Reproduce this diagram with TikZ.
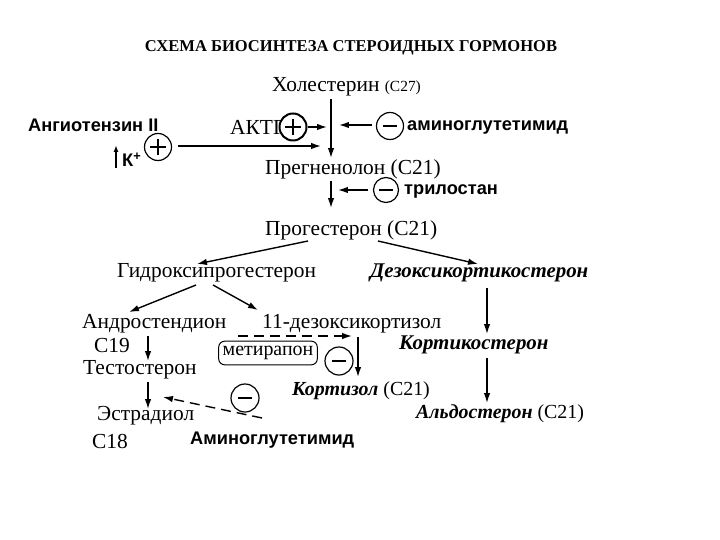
\documentclass[tikz,border=0pt]{standalone}
\usepackage{fontspec}
\setmainfont{Liberation Serif}
\setsansfont{Liberation Sans}
\usetikzlibrary{arrows.meta}
\begin{document}
\begin{tikzpicture}[x=1bp,y=-1bp,
 lbl/.style={inner sep=0pt, anchor=west, font=\fontsize{21.5}{24}\selectfont},
 mix/.style={inner sep=0pt, anchor=west, font=\fontsize{20}{22}\selectfont},
 bi/.style={inner sep=0pt, anchor=west, font=\fontsize{21}{23}\selectfont\bfseries\itshape},
 sl/.style={inner sep=0pt, anchor=west, font=\fontsize{18.3}{20}\selectfont\sffamily\bfseries},
 arr/.style={-{Latex[length=10pt,width=6.5pt]}, line width=1.4pt},
 darr/.style={arr, dash pattern=on 10pt off 6pt},
 sign/.style={circle, draw, line width=1.2pt, minimum size=27bp, inner sep=0pt},
 plussign/.style={sign, path picture={
   \draw[line width=1.8pt] ([xshift=-8bp]path picture bounding box.center) -- ([xshift=8bp]path picture bounding box.center);
   \draw[line width=1.8pt] ([yshift=-8bp]path picture bounding box.center) -- ([yshift=8bp]path picture bounding box.center);}},
 minussign/.style={sign, path picture={
   \draw[line width=2.2pt] ([xshift=-7bp]path picture bounding box.center) -- ([xshift=7bp]path picture bounding box.center);}},
]
\useasboundingbox[fill=white] (0,0) rectangle (720,540);

% title
\node[inner sep=0pt, font=\fontsize{16.6}{18}\selectfont\bfseries] (title) at (351,48) {СХЕМА БИОСИНТЕЗА СТЕРОИДНЫХ ГОРМОНОВ};

% main column
\node[lbl] (chol) at (272,87) {Холестерин {\fontsize{15.5}{17}\selectfont(С27)}};
\node[lbl] (preg) at (265,169) {Прегненолон (С21)};
\node[lbl] (prog) at (265,230) {Прогестерон (С21)};
\coordinate (v1) at (331,99);
\coordinate (v2) at (331,158);
\coordinate (v3) at (331,181);
\coordinate (v4) at (331,208);
\draw[arr] (v1) -- (v2);
\draw[arr] (v3) -- (v4);

% activators
\node[sl] (ang) at (28,125) {Ангиотензин II};
\node[lbl] (actg) at (230,127) {АКТГ};
\node[plussign, line width=2pt, fill=white] (p1) at (293,127) {};
\coordinate (p1e) at (327,127);
\draw[arr] (p1) -- (p1e);
\node[plussign] (p2) at (158,147) {};
\coordinate (p2s) at (178,146);
\coordinate (p2e) at (321,146);
\draw[arr] (p2s) -- (p2e);
\node[sl] (kp) at (122,160) {К\textsuperscript{+}};
\coordinate (ku1) at (116,168);
\coordinate (ku2) at (116,145);
\draw[-{Latex[length=7pt,width=5pt]}, line width=1.4pt] (ku1) -- (ku2);

% inhibitors top
\node[minussign] (m1) at (390,126) {};
\node[sl] (amg1) at (407,127) {аминоглутетимид};
\coordinate (m1s) at (372,125);
\coordinate (m1e) at (339,125);
\draw[arr] (m1s) -- (m1e);
\node[minussign, minimum size=25bp] (m2) at (386,190) {};
\node[sl] (tril) at (404,191) {трилостан};
\coordinate (m2s) at (368,190);
\coordinate (m2e) at (338,190);
\draw[arr] (m2s) -- (m2e);

% second level
\node[lbl] (hydr) at (117,273) {Гидроксипрогестерон};
\node[bi] (dezk) at (370,273) {Дезоксикортикостерон};
\coordinate (pl) at (308,241);
\coordinate (pr) at (378,241);
\coordinate (hl) at (197,264);
\coordinate (dr) at (478,264);
\draw[arr] (pl) -- (hl);
\draw[arr] (pr) -- (dr);

% third level
\node[lbl] (andr) at (82,324) {Андростендион};
\node[lbl] (dezc) at (262,324) {11-дезоксикортизол};
\coordinate (hs1) at (196,285);
\coordinate (he1) at (129,312);
\coordinate (hs2) at (213,285);
\coordinate (he2) at (258,310);
\draw[arr] (hs1) -- (he1);
\draw[arr] (hs2) -- (he2);
\node[lbl] (c19) at (94,346) {С19};
\node[lbl] (test) at (83,370) {Тестостерон};
\node[lbl] (estr) at (97,416) {Эстрадиол};
\node[lbl] (c18) at (92,441) {С18};
\coordinate (a1) at (148,336);
\coordinate (a2) at (148,361);
\coordinate (a3) at (148,382);
\coordinate (a4) at (148,409);
\draw[arr] (a1) -- (a2);
\draw[arr] (a3) -- (a4);

% metyrapone
\node[draw, rounded corners=6pt, line width=1pt, inner xsep=4pt, inner ysep=5pt, font=\fontsize{20}{22}\selectfont] (met) at (268,353) {метирапон};
\coordinate (d1) at (238,336);
\coordinate (d2) at (352,336);
\draw[darr] (d1) -- (d2);
\node[minussign, minimum size=28bp] (m3) at (339,361) {};
\coordinate (k1) at (358,337);
\coordinate (k2) at (358,377);
\draw[arr] (k1) -- (k2);
\node[mix] (cort) at (292,391) {\bfseries\itshape Кортизол\mdseries\upshape{} (С21)};

% aminoglutethimide lower
\node[minussign, minimum size=28bp] (m4) at (245,398) {};
\coordinate (e1) at (262,418);
\coordinate (e2) at (163,397);
\draw[darr] (e1) -- (e2);
\node[sl] (amg2) at (190,440) {Аминоглутетимид};

% right column
\node[bi] (ckst) at (399,345) {Кортикостерон};
\node[mix] (aldo) at (416,414) {\bfseries\itshape Альдостерон\mdseries\upshape{} (С21)};
\coordinate (r1) at (487,288);
\coordinate (r2) at (487,334);
\coordinate (r3) at (487,358);
\coordinate (r4) at (487,403);
\draw[arr] (r1) -- (r2);
\draw[arr] (r3) -- (r4);
\end{tikzpicture}
\end{document}
